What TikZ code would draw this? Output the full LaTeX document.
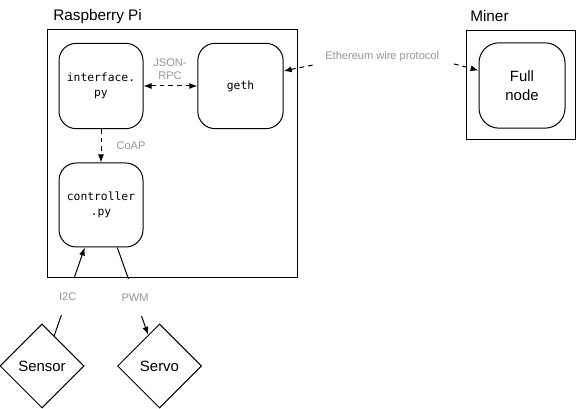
\documentclass[tikz,border=0pt]{standalone}
\usepackage{fontspec}
\setmainfont{Liberation Sans}
\setmonofont{DejaVu Sans Mono}
\usetikzlibrary{calc,arrows.meta,shapes.geometric}
\definecolor{lblgray}{RGB}{150,150,150}
\tikzset{
	proc/.style={draw, line width=0.75pt, rounded corners=13pt, minimum width=63pt, minimum height=64pt, inner sep=0pt, align=center, font=\ttfamily\fontsize{8.5}{11}\selectfont},
	part/.style={draw, diamond, aspect=1, line width=0.75pt, minimum width=63pt, minimum height=63pt, inner sep=0pt, font=\fontsize{11.2}{13}\selectfont},
	lbl/.style={text=lblgray, align=center, font=\fontsize{8.3}{9.5}\selectfont},
	gap/.style={fill=white, inner xsep=2pt, inner ysep=11pt},
	title/.style={anchor=west, inner sep=0pt, font=\fontsize{11.5}{13}\selectfont},
	wire/.style={line width=0.75pt},
	dashwire/.style={line width=0.75pt, dash pattern=on 3.5pt off 3pt},
}

\begin{document}
\begin{tikzpicture}[x=0.75pt, y=-0.75pt, >={Latex[length=6pt,width=4.5pt]}]
			%%%%% START %%%%%
			\useasboundingbox (0,0) rectangle (578,409);
			
			\draw[wire] (47,30) rectangle (297,278);
			\node[title] (pilbl) at (53,17) {Raspberry Pi};
			
			\draw[wire] (466,31) rectangle (575,140);
			\node[title] (minerlbl) at (470,16) {Miner};
			
			\node[proc] (iface) at (101,86) {interface.\\py};
			\node[proc, minimum width=64pt] (geth) at (240.5,86) {geth};
			\node[proc, minimum height=63pt] (ctrl) at (101,205) {controller\\.py};
			\node[proc, rounded corners=15pt, minimum width=64.5pt, font=\fontsize{11.2}{14}\selectfont] (full) at (522,85.5) {Full\\node};
			
			\node[part] (sensor) at (42,366) {Sensor};
			\node[part] (servo) at (159.5,366) {Servo};
			
			\draw[dashwire, <->] (iface) -- (geth);
			\node[lbl] (rpc) at (170,69) {JSON-\\RPC};
			
			\draw[dashwire, ->] (iface) -- (ctrl);
			\node[lbl] (coap) at (131,146) {CoAP};
			
			\draw[dashwire, <->] ($(geth.east)+(0,-15)$) .. controls +(77,-16) and +(-74,-21) .. ($(full.west)+(0,-15)$)
				node[lbl, midway, fill=white, inner xsep=9pt] (ewp) {Ethereum wire protocol};
			
			\draw[wire, ->] (sensor.68) -- (ctrl.-111) node[lbl, gap, pos=0.44] (i2c) {I2C};
			\draw[wire, ->] (ctrl.-69) -- (servo.110) node[lbl, gap, pos=0.575] (pwm) {PWM};
			
			%%%%% END %%%%%
\end{tikzpicture}
\end{document}
